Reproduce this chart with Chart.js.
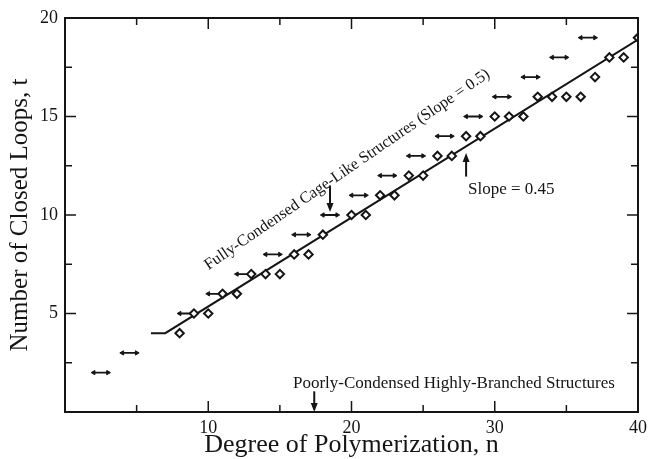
<!DOCTYPE html>
<html>
<head>
<meta charset="utf-8">
<title>Closed loops vs degree of polymerization</title>
<script src="https://cdn.jsdelivr.net/npm/chart.js@4.4.1/dist/chart.umd.min.js"></script>
<style>
    html, body { margin: 0; padding: 0; background: #fff; }
    #wrap { width: 649px; height: 459px; }
</style>
</head>
<body>
<div id="wrap"><canvas id="loopsChart" width="649" height="459"></canvas></div>
<script>
// Measured number of closed loops (diamonds)
const loopN = [8, 9, 10, 11, 12, 13, 14, 15, 16, 17, 18, 20, 21, 22, 23, 24, 25, 26, 27, 28, 29, 30, 31, 32, 33, 34, 35, 36, 37, 38, 39, 40];
const loopT = [4, 5, 5, 6, 6, 7, 7, 7, 8, 8, 9, 10, 10, 11, 11, 12, 12, 13, 13, 14, 14, 15, 15, 15, 16, 16, 16, 16, 17, 18, 18, 19];

// Fully-condensed cage-like limit (horizontal bars, slope 0.5)
const cageStartN = [2, 4, 8, 10, 12, 14, 16, 18, 20, 22, 24, 26, 28, 30, 32, 34, 36];
const cageEndN   = [3, 5, 9, 11, 13, 15, 17, 19, 21, 23, 25, 27, 29, 31, 33, 35, 37];
const cageT      = [2, 3, 5, 6, 7, 8, 9, 10, 11, 12, 13, 14, 15, 16, 17, 18, 19];

// Fitted line (slope = 0.45)
const fitN = [6, 7, 40];
const fitT = [4, 4, 18.9];

// Axis ticks
const xLabels = [10, 20, 30, 40];
const yLabels = [5, 10, 15, 20];
const xMajor = [0, 10, 20, 30, 40];
const xMinor = [5, 15, 25, 35];
const yMajor = [0, 5, 10, 15, 20];
const yMinor = [2.5, 7.5, 12.5, 17.5];

const INK = '#151515';
const SERIF = '"Liberation Serif", "Times New Roman", serif';

// Build bar segments: start, end, gap
const cageData = [];
cageStartN.forEach((n, i) => {
    cageData.push({ x: n, y: cageT[i] });
    cageData.push({ x: cageEndN[i], y: cageT[i] });
    cageData.push({ x: n, y: null });
});

/**
 * Frame with inward ticks on all four sides
 */
const frameTicks = {
    id: 'frameTicks',
    afterDraw(chart) {
        const { ctx, chartArea: a, scales: { x, y } } = chart;
        ctx.save();
        ctx.strokeStyle = INK;
        ctx.lineWidth = 1.5;
        const seg = (x0, y0, x1, y1) => {
            ctx.beginPath();
            ctx.moveTo(x0, y0);
            ctx.lineTo(x1, y1);
            ctx.stroke();
        };
        const xTick = (v, len) => {
            const px = x.getPixelForValue(v);
            seg(px, a.bottom, px, a.bottom - len);
            seg(px, a.top, px, a.top + len);
        };
        const yTick = (v, len) => {
            const py = y.getPixelForValue(v);
            seg(a.left, py, a.left + len, py);
            seg(a.right, py, a.right - len, py);
        };
        xMajor.forEach(v => xTick(v, 11));
        xMinor.forEach(v => xTick(v, 7));
        yMajor.forEach(v => yTick(v, 11));
        yMinor.forEach(v => yTick(v, 7));
        ctx.lineWidth = 2;
        ctx.strokeRect(a.left, a.top, a.right - a.left, a.bottom - a.top);
        ctx.restore();
    }
};

/**
 * Text notes and arrows inside the plot
 */
const notes = {
    id: 'notes',
    afterDatasetsDraw(chart) {
        const { ctx, scales: { x, y } } = chart;
        const px = v => x.getPixelForValue(v);
        const py = v => y.getPixelForValue(v);

        const arrow = (n, tFrom, tTo) => {
            const x0 = px(n), y0 = py(tFrom), y1 = py(tTo);
            const dir = y1 > y0 ? 1 : -1;
            ctx.lineWidth = 2;
            ctx.beginPath();
            ctx.moveTo(x0, y0);
            ctx.lineTo(x0, y1 - dir * 6);
            ctx.stroke();
            ctx.beginPath();
            ctx.moveTo(x0, y1);
            ctx.lineTo(x0 - 3.5, y1 - dir * 9);
            ctx.lineTo(x0 + 3.5, y1 - dir * 9);
            ctx.closePath();
            ctx.fill();
        };

        ctx.save();
        ctx.fillStyle = INK;
        ctx.strokeStyle = INK;

        // Diagonal label along the slope 0.5 bars
        const angle = Math.atan2(0.5 * (py(0) - py(1)), px(1) - px(0));
        ctx.save();
        ctx.font = '16.2px ' + SERIF;
        ctx.translate(px(19.7), py(12.3));
        ctx.rotate(-angle);
        ctx.textAlign = 'center';
        ctx.textBaseline = 'middle';
        ctx.fillText('Fully-Condensed Cage-Like Structures (Slope = 0.5)', 0, 0);
        ctx.restore();
        arrow(18.5, 11.5, 10.15);

        ctx.font = '17px ' + SERIF;

        // Fitted slope label
        ctx.textAlign = 'left';
        ctx.textBaseline = 'middle';
        ctx.fillText('Slope = 0.45', px(28.13), py(11.3));
        arrow(28.0, 11.95, 13.15);

        // Bottom label
        ctx.textAlign = 'center';
        ctx.fillText('Poorly-Condensed Highly-Branched Structures', px(27.15), py(1.45));
        arrow(17.4, 1.05, 0);

        ctx.restore();
    }
};

const ctx = document.getElementById('loopsChart');
new Chart(ctx, {
    type: 'scatter',
    data: {
        datasets: [{
            label: 'Fit',
            data: fitN.map((n, i) => ({ x: n, y: fitT[i] })),
            showLine: true,
            borderColor: INK,
            borderWidth: 2,
            pointRadius: 0,
            order: 3
        }, {
            label: 'Fully-condensed',
            data: cageData,
            showLine: true,
            spanGaps: false,
            borderColor: INK,
            borderWidth: 1.8,
            pointStyle: 'triangle',
            pointRadius: 2.5,
            pointRotation: c => (c.dataIndex % 3 === 0 ? -90 : 90),
            pointBackgroundColor: INK,
            pointBorderColor: INK,
            pointBorderWidth: 1,
            order: 2
        }, {
            label: 'Closed loops',
            data: loopN.map((n, i) => ({ x: n, y: loopT[i] })),
            pointStyle: 'rectRot',
            pointRadius: 4.2,
            pointBackgroundColor: '#fff',
            pointBorderColor: INK,
            pointBorderWidth: 2,
            order: 1
        }]
    },
    options: {
        responsive: false,
        animation: false,
        events: [],
        layout: {
            padding: { top: 18, right: 11, left: 0, bottom: 0 }
        },
        plugins: {
            legend: { display: false },
            tooltip: { enabled: false }
        },
        scales: {
            x: {
                type: 'linear',
                min: 0,
                max: 40,
                afterFit: scale => {
                    scale.height = 47;
                    scale.paddingLeft = 0;
                    scale.paddingRight = 0;
                },
                grid: { display: false, drawTicks: false },
                border: { display: false },
                ticks: {
                    stepSize: 10,
                    padding: 5,
                    color: INK,
                    font: { family: SERIF, size: 18 },
                    callback: v => (xLabels.includes(v) ? v : '')
                },
                title: {
                    display: true,
                    text: 'Degree of Polymerization, n',
                    color: INK,
                    font: { family: SERIF, size: 26 },
                    padding: { top: 0, bottom: -2 }
                }
            },
            y: {
                type: 'linear',
                min: 0,
                max: 20,
                afterFit: scale => {
                    scale.width = 65;
                    scale.paddingTop = 0;
                    scale.paddingBottom = 0;
                },
                grid: { display: false, drawTicks: false },
                border: { display: false },
                ticks: {
                    stepSize: 5,
                    padding: 7,
                    color: INK,
                    font: { family: SERIF, size: 18 },
                    callback: v => (yLabels.includes(v) ? v : '')
                },
                title: {
                    display: true,
                    text: 'Number of Closed Loops, t',
                    color: INK,
                    font: { family: SERIF, size: 25 },
                    padding: { top: 5, bottom: 0 }
                }
            }
        }
    },
    plugins: [frameTicks, notes]
});
</script>
</body>
</html>
